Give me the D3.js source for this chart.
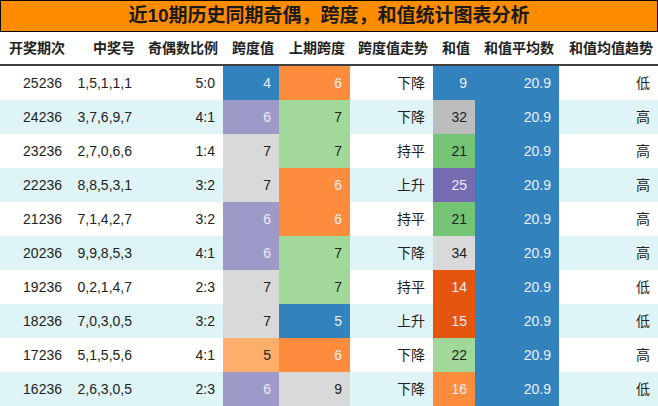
<!DOCTYPE html>
<html><head><meta charset="utf-8">
<script src="https://cdn.jsdelivr.net/npm/d3@7"></script>
<style>body{margin:0;background:#fff}svg{display:block;font-family:"Liberation Sans","Noto Sans CJK SC",sans-serif}</style>
</head><body><svg id="c" width="658" height="406"></svg>
<script>
const title = "近10期历史同期奇偶，跨度，和值统计图表分析";
const headers = ["开奖期次","中奖号","奇偶数比例","跨度值","上期跨度","跨度值走势","和值","和值平均数","和值均值趋势"];
const periods = ["25236","24236","23236","22236","21236","20236","19236","18236","17236","16236"];
const numbers = ["1,5,1,1,1","3,7,6,9,7","2,7,0,6,6","8,8,5,3,1","7,1,4,2,7","9,9,8,5,3","0,2,1,4,7","7,0,3,0,5","5,1,5,5,6","2,6,3,0,5"];
const oddEven = ["5:0","4:1","1:4","3:2","3:2","4:1","2:3","3:2","4:1","2:3"];
const span = [4,6,7,7,6,6,7,7,5,6];
const prevSpan = [6,7,7,6,6,7,7,5,6,9];
const spanTrend = ["下降","下降","持平","上升","持平","下降","持平","上升","下降","下降"];
const sums = [9,32,21,25,21,34,14,15,22,16];
const sumAvg = [20.9,20.9,20.9,20.9,20.9,20.9,20.9,20.9,20.9,20.9];
const avgTrend = ["低","高","高","高","高","高","低","低","高","低"];

const svg = d3.select("#c");
const W = 658, titleH = 32, headH = 33;
const colEdges = [0,70,140,223,279,350,433,475,559,658];
const x = i => colEdges[i];
const y = d3.scaleBand().domain(d3.range(periods.length)).range([titleH+headH+1, 406]);

const spanColor = d3.scaleOrdinal().domain([4,5,6,7]).range(["#3182bd","#fdae6b","#9e9ac8","#d9d9d9"]);
const prevColor = d3.scaleOrdinal().domain([5,6,7,9]).range(["#3182bd","#fd8d3c","#a1d99b","#d9d9d9"]);
const sumColor = d3.scaleOrdinal().domain([9,14,15,16,21,22,25,32,34])
  .range(["#3182bd","#e6550d","#e6550d","#fd8d3c","#74c476","#a1d99b","#756bb1","#bdbdbd","#d9d9d9"]);
const darkBg = new Set(["#3182bd","#fd8d3c","#9e9ac8","#e6550d","#756bb1"]);

// title
svg.append("rect").attr("x",0.5).attr("y",0.5).attr("width",W-1).attr("height",titleH-1)
  .attr("fill","#fd8c00").attr("stroke","#000");
svg.append("text").attr("x",W/2).attr("y",titleH/2+1).attr("text-anchor","middle")
  .attr("dominant-baseline","middle").attr("font-size",19).attr("font-weight","bold")
  .attr("fill","#1a1a1a").text(title);

// header
headers.forEach((h,i)=>{
  svg.append("text").attr("x",x(i+1)-5).attr("y",titleH+headH/2+1)
    .attr("text-anchor","end").attr("dominant-baseline","middle")
    .attr("font-size",14).attr("font-weight","bold").attr("fill","#222").text(h);
});
svg.append("line").attr("x1",0).attr("x2",W).attr("y1",titleH+headH).attr("y2",titleH+headH)
  .attr("stroke","#000").attr("stroke-width",1.5);

const cols = [
  {v:periods},{v:numbers},{v:oddEven},
  {v:span,c:spanColor},{v:prevSpan,c:prevColor},{v:spanTrend},
  {v:sums,c:sumColor},{v:sumAvg,c:()=>"#3182bd",f:d=>d.toFixed(1)},{v:avgTrend}
];

periods.forEach((p,r)=>{
  const g = svg.append("g").attr("transform",`translate(0,${y(r)})`);
  g.append("rect").attr("width",W).attr("height",y.bandwidth()).attr("fill", r%2 ? "#def4f7" : "#fff");
  cols.forEach((col,i)=>{
    const val = col.v[r];
    let tc = "#222";
    if (col.c) {
      const bg = col.c(val);
      g.append("rect").attr("x",x(i)).attr("width",x(i+1)-x(i)).attr("height",y.bandwidth()).attr("fill",bg);
      if (darkBg.has(bg)) tc = "#eef";
    }
    g.append("text").attr("x",x(i+1)-8).attr("y",y.bandwidth()/2+1)
      .attr("text-anchor","end").attr("dominant-baseline","middle")
      .attr("font-size",14).attr("fill",tc).text(col.f ? col.f(val) : val);
  });
});
</script></body></html>
